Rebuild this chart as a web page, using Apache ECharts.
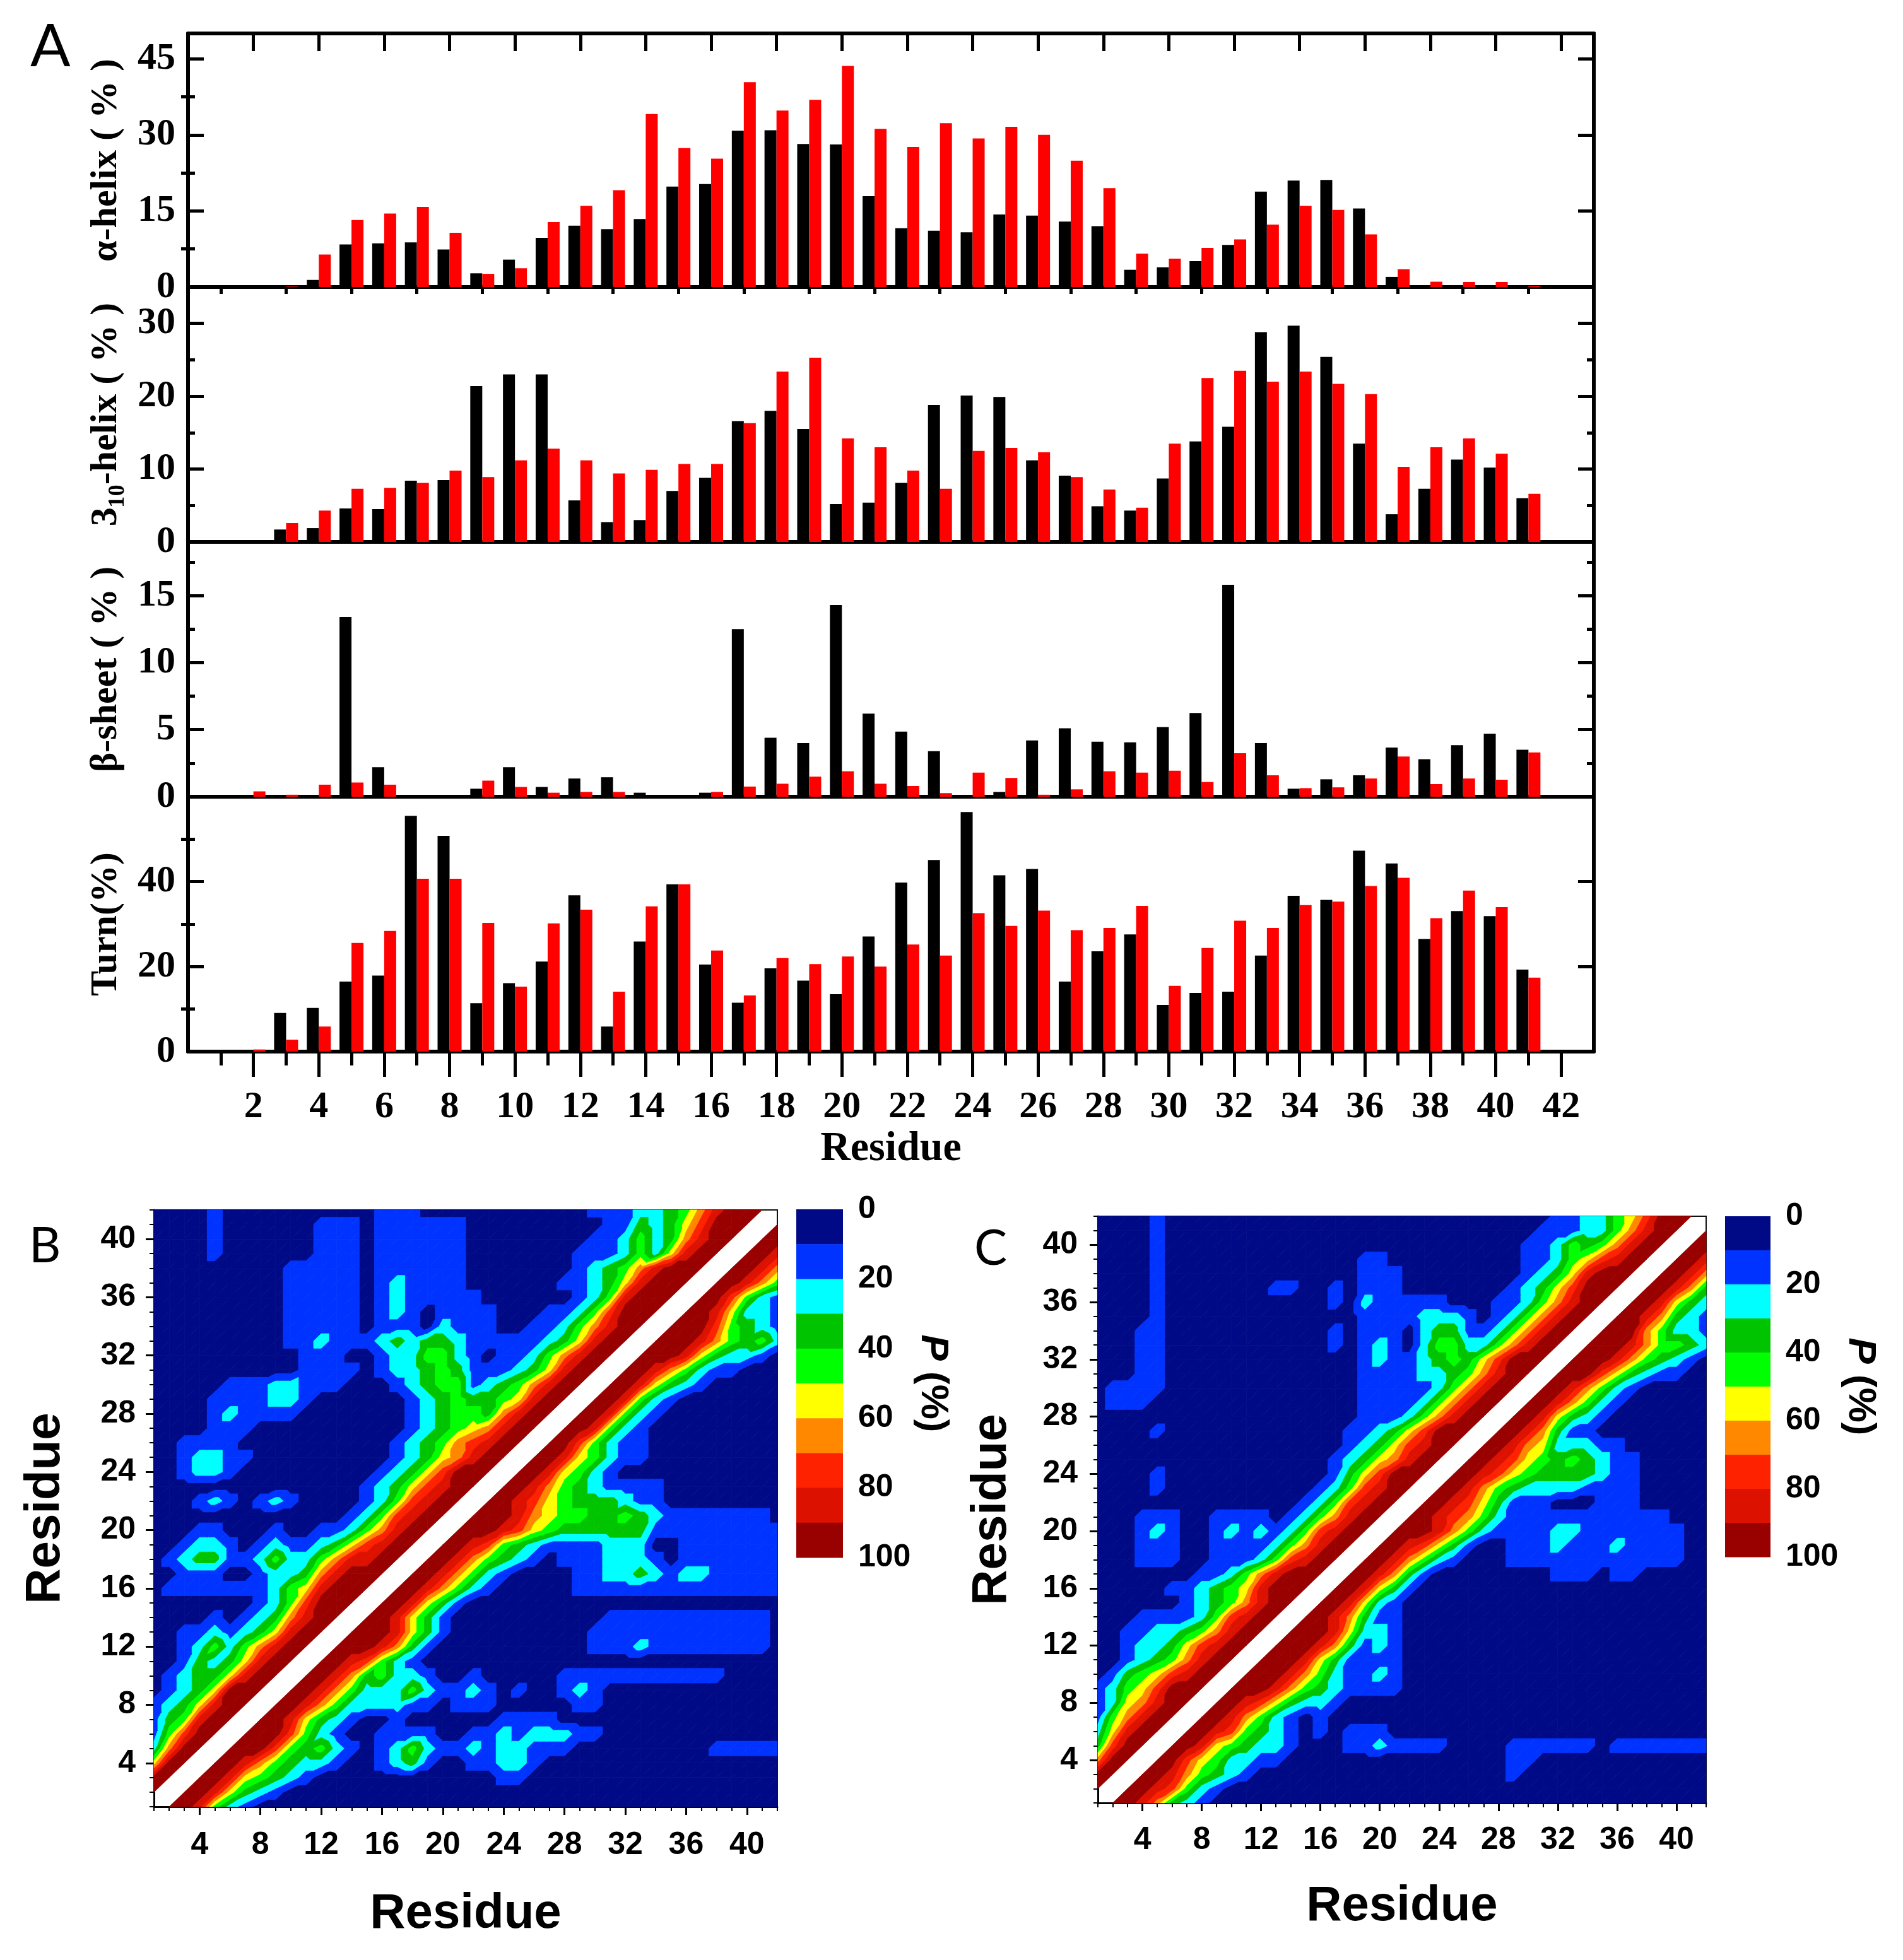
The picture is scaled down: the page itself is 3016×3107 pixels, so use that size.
<!DOCTYPE html>
<html><head><meta charset="utf-8">
<script src="https://cdn.jsdelivr.net/npm/echarts@6/dist/echarts.min.js"></script>
<style>html,body{margin:0;padding:0;background:#fff}#c{width:3016px;height:3107px}</style>
</head><body><div id="c"></div>
<script>
// ---------- Panel A data (residues 1..41) ----------
const residues = [1,2,3,4,5,6,7,8,9,10,11,12,13,14,15,16,17,18,19,20,21,22,23,24,25,26,27,28,29,30,31,32,33,34,35,36,37,38,39,40,41];
const alphaBlack = [0,0,0,1.4,8.4,8.6,8.8,7.4,2.7,5.4,9.7,12.1,11.4,13.4,19.8,20.3,30.8,30.9,28.2,28.1,17.9,11.6,11.1,10.8,14.3,14.1,12.9,12.0,3.4,3.9,5.1,8.3,18.8,21.0,21.1,15.5,2.0,0.35,0.35,0.3,0];
const alphaRed   = [0,0,0.1,6.4,13.2,14.5,15.8,10.7,2.6,3.7,12.8,16.0,19.1,34.1,27.4,25.3,40.4,34.8,36.9,43.6,31.2,27.6,32.3,29.3,31.6,30.0,24.9,19.5,6.6,5.6,7.7,9.4,12.3,16.0,15.2,10.4,3.5,1.05,1.0,1.0,0.2];
const helixBlack = [0,0,1.7,1.9,4.6,4.5,8.4,8.5,21.4,23.0,23.0,5.7,2.7,3.0,7.0,8.8,16.6,18.0,15.5,5.2,5.4,8.1,18.8,20.1,19.9,11.2,9.1,4.9,4.3,8.7,13.8,15.8,28.8,29.7,25.4,13.5,3.8,7.3,11.3,10.2,6.0];
const helixRed   = [0,0,2.6,4.3,7.3,7.4,8.1,9.8,8.9,11.2,12.8,11.2,9.4,9.9,10.7,10.7,16.3,23.4,25.3,14.2,13.0,9.8,7.3,12.5,12.9,12.3,8.9,7.2,4.7,13.5,22.5,23.5,22.0,23.4,21.7,20.3,10.3,13.0,14.2,12.1,6.6];
const sheetBlack = [0,0,0.1,0.1,13.4,2.2,0,0,0.6,2.2,0.73,1.36,1.45,0.3,0,0.3,12.5,4.4,4.0,14.3,6.2,4.85,3.4,0.1,0.36,4.2,5.1,4.1,4.06,5.2,6.24,15.8,4.0,0.6,1.3,1.6,3.67,2.8,3.85,4.7,3.5];
const sheetRed   = [0,0.4,0.15,0.9,1.06,0.9,0,0,1.2,0.73,0.3,0.36,0.36,0,0,0.36,0.76,0.97,1.5,1.9,0.97,0.8,0.27,1.8,1.4,0.15,0.55,1.9,1.8,1.94,1.1,3.24,1.6,0.64,0.7,1.36,3.0,0.94,1.36,1.27,3.3];
const turnBlack  = [0,0,9.1,10.3,16.5,17.9,55.5,50.8,11.4,16.1,21.2,36.8,5.9,25.9,39.4,20.5,11.5,19.6,16.7,13.5,27.1,39.8,45.1,56.4,41.5,43.0,16.5,23.6,27.6,11.0,13.8,14.1,22.6,36.7,35.7,47.3,44.3,26.5,33.1,31.9,19.3];
const turnRed    = [0,0.5,2.8,5.9,25.6,28.4,40.7,40.7,30.3,15.3,30.2,33.4,14.1,34.2,39.4,23.8,13.2,22.0,20.6,22.4,20.0,25.2,22.6,32.6,29.6,33.2,28.6,29.1,34.3,15.5,24.4,30.8,29.1,34.5,35.3,39.0,40.9,31.4,37.9,34.0,17.4];

const alphaTicks = [0,15,30,45], alphaMinor = [7.5,22.5,37.5];
const helixTicks = [0,10,20,30], helixMinor = [5,15,25];
const sheetTicks = [0,5,10,15],  sheetMinor = [2.5,7.5,12.5,17.5];
const turnTicks  = [0,20,40],    turnMinor  = [10,30,50];
const residueTicks = [2,4,6,8,10,12,14,16,18,20,22,24,26,28,30,32,34,36,38,40,42];
const residueMinor = [1,3,5,7,9,11,13,15,17,19,21,23,25,27,29,31,33,35,37,39,41];

// ---------- Panels B, C: contact probability, decile level at each residue pair ----------
// row k = residue 42-k (top to bottom); characters = residues 1..42 (blocks of 10); '-' = no data
const contactRowsB = [
"0000100000 0000011100 0000000001 1122346899 9-",
"0000100000 0111011111 1000000000 1132357999 -9",
"0000100000 0111011111 1000000001 124236899- 99",
"0000100000 0111011111 1000000011 12425899-9 98",
"0000000001 1111011111 1000000012 3468999-99 86",
"0000000001 1111012111 1000000112 358999-998 64",
"0000000001 1111012111 1100000012 48999-9974 21",
"0000000001 1111012101 1110001124 7999-99852 21",
"0000000001 1111011102 1110011246 899-999743 21",
"0000000001 1211123233 2111112358 99-9998643 42",
"0000000000 1110012244 2101124689 9-99985322 10",
"0000000000 1111012234 3111235899 -998642110 00",
"0000011122 1110001234 412346899- 9985321000 00",
"0000111122 1000000123 43345899-9 9842100000 00",
"0000121111 0000000123 4436899-99 8421000000 00",
"0000111000 0000000123 456899-998 4210000000 00",
"0011110000 0000001234 67899-9974 2110000000 00",
"0012211000 0000001235 6899-99854 2110000000 00",
"0012210000 0000012357 999-998542 1000000000 00",
"0000000000 0000123578 99-9986432 1111000000 00",
"0001210121 0000124789 9-99875433 3211000000 00",
"0000000000 0001247899 -999865443 3432111111 10",
"0001100010 011246899- 9998754333 3331111111 11",
"0012210121 12357899-9 9874321111 2220011111 11",
"0123311242 2468899-99 8643210111 2221011111 11",
"0011100122 368999-998 6421000011 2232122111 11",
"0111111124 58999-9986 4210000011 1111111111 11",
"0000000124 7999-99853 1000000000 0000000000 00",
"0000101236 899-998531 0000000000 1111111111 10",
"0011212358 99-9998531 0000000001 1111111111 10",
"0012424689 9-99986310 0000000001 1121111111 10",
"0013235899 -998742100 0000000000 0000000000 00",
"012335899- 9986342210 0100000111 1111111100 00",
"01235999-9 9864222421 1210100121 0000000000 00",
"1235899-99 8642222110 1110000011 0000000000 00",
"134899-998 5321001000 0001111000 0000000000 00",
"14799-9997 4210011110 0112122211 0000000000 00",
"2699-99974 3421012421 1212211100 0000000111 11",
"599-998643 2210012310 0112210000 0000000000 00",
"99-9985432 1000000000 0001100000 0000000000 00",
"9-99853210 0000000000 0000000000 0000000000 00",
"-998421000 0000000000 0000000000 0000000000 00"
];
const contactRowsC = [
"0000100000 0000000000 0000000000 0112245799 9-",
"0000100000 0000000000 0000000000 1112246899 -9",
"0000100000 0000000000 0000000001 124346899- 99",
"0000100000 0000000011 0000000001 12457899-9 98",
"0000100000 0000000011 1000000001 2358999-99 86",
"0000100000 0011001011 1000000012 357999-998 63",
"0000100000 0000001021 1111000112 46899-9985 32",
"0000100000 0000000011 1122210124 6899-99863 21",
"0001100000 0000001011 1023311246 899-999642 21",
"0001100000 0000001012 1024422468 99-9998644 32",
"0001100000 0000000012 1123435799 9-99986432 10",
"0001100000 0000000011 1122346899 -999753211 00",
"0111100000 0000000011 111246899- 9986421000 00",
"0111000000 0000000011 11246899-9 9864210000 00",
"0000000000 0000000011 1246899-99 8532100000 00",
"0000100000 0000000112 357999-998 6311000000 00",
"0000000000 0000000123 57899-9986 5222110000 00",
"0000000000 0000001235 6899-99875 4343211000 00",
"0000100000 0000001357 999-998754 3333211000 00",
"0000100000 0000012478 99-9986432 2221111000 00",
"0000000000 0000124789 9-99875311 1000111000 00",
"0001110011 1101246899 -998764211 1111111110 00",
"0001210012 121247899- 9998642111 1221111111 00",
"0001110011 11246899-9 9875310011 1211121111 00",
"0001110011 1247899-99 8642100011 1111111111 00",
"0000000112 468999-998 6310000000 0111011000 00",
"0000011234 58999-9985 3100000000 0000000000 00",
"0000001234 6899-99852 1000000000 0000000000 00",
"0001111247 899-998631 1000000000 0000000000 00",
"0011223468 99-9998522 1000000000 0000000000 00",
"0012235789 9-99986312 1000000000 0000000000 00",
"0012346899 -999853111 1000000000 0000000000 00",
"013457899- 9998642112 1000000000 0000000000 00",
"12457999-9 9986432111 1000000000 0000000000 00",
"1256899-99 8753221000 0000000000 0000000000 00",
"146899-998 6421010000 0000000000 0000000000 00",
"25899-9987 4321010111 0000000000 0000000000 00",
"3799-99854 3221000112 1111000011 1111011111 11",
"699-997542 2110000000 0000000011 0000000000 00",
"99-9986432 1000000000 0000000010 0000000000 00",
"9-99874210 0000000000 0000000000 0000000000 00",
"-998632100 0000000000 0000000000 0000000000 00"
];
const levelBounds = [0,10,20,30,40,50,60,70,80,90,100];
const levelColors = ['#000a86','#0033ff','#00ffff','#00c400','#00ff00','#ffff00','#ff8800','#ff2200','#dd1100','#990000'];
const mapTicks = [4,8,12,16,20,24,28,32,36,40];
const mapMinor = [1,2,3,4,5,6,7,8,9,10,11,12,13,14,15,16,17,18,19,20,21,22,23,24,25,26,27,28,29,30,31,32,33,34,35,36,37,38,39,40,41,42];

// ---------- build ----------
const serif = 'Liberation Serif, Times New Roman, serif';
const sans = 'Liberation Sans, Arial, sans-serif';
const grids = [], xAxes = [], yAxes = [], series = [];
const addX = o => (xAxes.push(o), xAxes.length - 1);
const addY = o => (yAxes.push(o), yAxes.length - 1);
const addG = o => (grids.push(o), grids.length - 1);
const hidden = {show: false};

// value matrix: V[i][j] (residue i on x, residue j on y); -1 = no data
function matrixFrom(rows) {
  const V = [];
  for (let i = 0; i <= 42; i++) V.push(new Array(43).fill(-1));
  rows.forEach((raw, k) => {
    let row = raw.replace(/\s/g, '');
    const j = 42 - k;
    for (let i = 1; i <= 42; i++) {
      const ch = row[i - 1];
      V[i][j] = (ch === undefined || ch === '-') ? -1 : Number(ch) * 10 + 5;
    }
  });
  return V;
}
// one item per grid square, carrying the four corner values
function squaresFrom(rows) {
  const V = matrixFrom(rows), out = [];
  for (let i = 1; i < 42; i++)
    for (let j = 1; j < 42; j++)
      out.push([i, j, V[i][j], V[i + 1][j], V[i][j + 1], V[i + 1][j + 1]]);
  return out;
}
function clipPoly(poly, f) {
  const out = [];
  for (let a = 0; a < poly.length; a++) {
    const A = poly[a], B = poly[(a + 1) % poly.length];
    const fa = f(A), fb = f(B);
    if (fa >= 0) out.push(A);
    if ((fa >= 0) !== (fb >= 0)) {
      const t = fa / (fa - fb);
      out.push([A[0] + t * (B[0] - A[0]), A[1] + t * (B[1] - A[1]), A[2] + t * (B[2] - A[2])]);
    }
  }
  return out;
}
// filled contour bands inside each square (split into two triangles, linear interpolation)
function contourRender(params, api) {
  const i = api.value(0), j = api.value(1);
  const c = [[i, j, api.value(2)], [i + 1, j, api.value(3)], [i + 1, j + 1, api.value(5)], [i, j + 1, api.value(4)]];
  const tris = [[c[0], c[1], c[2]], [c[0], c[2], c[3]]];
  const children = [];
  tris.forEach(t => {
    if (t.some(p => !(p[2] >= 0))) return;
    for (let k = 0; k < levelColors.length; k++) {
      const lo = levelBounds[k], hi = levelBounds[k + 1];
      let poly = clipPoly(t, p => p[2] - lo);
      if (poly.length < 3) continue;
      poly = clipPoly(poly, p => hi - p[2]);
      if (poly.length < 3) continue;
      const pts = poly.map(p => api.coord([p[0], p[1]]));
      children.push({type: 'polygon', shape: {points: pts},
        style: {fill: levelColors[k], stroke: levelColors[k], lineWidth: 0.8}});
    }
  });
  return {type: 'group', children: children};
}
function barRender(params, api) {
  const lo = api.value(1), k = api.value(2);
  const a = api.coord([0, lo]);
  const b = api.coord([1, lo + 10]);
  return {type: 'rect', shape: {x: a[0], y: a[1], width: b[0] - a[0], height: b[1] - a[1] + 0.5}, style: {fill: levelColors[k]}};
}

const panels = [
  {name: 'α-helix ( % )', black: alphaBlack, red: alphaRed, max: 50, major: alphaTicks, minor: alphaMinor, top: 53, h: 402},
  {name: '3₁₀-helix ( % )', black: helixBlack, red: helixRed, max: 35, major: helixTicks, minor: helixMinor, top: 455, h: 404},
  {name: 'β-sheet ( % )', black: sheetBlack, red: sheetRed, max: 19, major: sheetTicks, minor: sheetMinor, top: 859, h: 404},
  {name: 'Turn(%)', black: turnBlack, red: turnRed, max: 60, major: turnTicks, minor: turnMinor, top: 1263, h: 404}
];
const lineA = {onZero: false, lineStyle: {color: '#000', width: 6}};
panels.forEach((p, idx) => {
  const g = addG({left: 298, width: 2228, top: p.top, height: p.h});
  const last = idx === 3;
  const xm = addX({gridIndex: g, type: 'value', min: 0, max: 43, position: 'bottom', splitLine: hidden,
    axisLine: lineA,
    axisTick: last ? {show: true, customValues: residueTicks, length: 40, inside: false, lineStyle: {color: '#000', width: 5}} : hidden,
    axisLabel: last ? {show: true, customValues: residueTicks, margin: 58, fontSize: 60, fontWeight: 'bold', fontFamily: serif, color: '#000'} : hidden,
    name: last ? 'Residue' : '', nameLocation: 'middle', nameGap: 122,
    nameTextStyle: {fontSize: 66, fontWeight: 'bold', fontFamily: serif, color: '#000'}});
  if (last) addX({gridIndex: g, type: 'value', min: 0, max: 43, position: 'bottom', splitLine: hidden, axisLine: hidden, axisLabel: hidden,
    axisTick: {show: true, customValues: residueMinor, length: 22, lineStyle: {color: '#000', width: 5}}});
  if (idx === 0) {
    addX({gridIndex: g, type: 'value', min: 0, max: 43, position: 'top', splitLine: hidden, axisLine: lineA, axisLabel: hidden,
      axisTick: {show: true, inside: true, customValues: residueTicks, length: 28, lineStyle: {color: '#000', width: 5}}});
    addX({gridIndex: g, type: 'value', min: 0, max: 43, position: 'top', splitLine: hidden, axisLine: hidden, axisLabel: hidden,
      axisTick: {show: true, inside: true, customValues: residueMinor, length: 11, lineStyle: {color: '#000', width: 5}}});
  }
  const ym = addY({gridIndex: g, type: 'value', min: 0, max: p.max, position: 'left', splitLine: hidden, axisLine: lineA,
    axisTick: {show: true, inside: true, customValues: p.major, length: 25, lineStyle: {color: '#000', width: 5}},
    axisLabel: {show: true, customValues: p.major, margin: 20, fontSize: 60, fontWeight: 'bold', fontFamily: serif, color: '#000'},
    name: p.name, nameLocation: 'middle', nameGap: 100,
    nameTextStyle: {fontSize: 60, fontWeight: 'bold', fontFamily: serif, color: '#000'}});
  addY({gridIndex: g, type: 'value', min: 0, max: p.max, position: 'left', splitLine: hidden, axisLine: hidden, axisLabel: hidden,
    axisTick: {show: true, inside: true, customValues: p.minor, length: 11, lineStyle: {color: '#000', width: 5}}});
  addY({gridIndex: g, type: 'value', min: 0, max: p.max, position: 'right', splitLine: hidden, axisLine: lineA, axisLabel: hidden,
    axisTick: {show: true, inside: true, customValues: p.major, length: 25, lineStyle: {color: '#000', width: 5}}});
  addY({gridIndex: g, type: 'value', min: 0, max: p.max, position: 'right', splitLine: hidden, axisLine: hidden, axisLabel: hidden,
    axisTick: {show: true, inside: true, customValues: p.minor, length: 11, lineStyle: {color: '#000', width: 5}}});
  series.push({type: 'bar', xAxisIndex: xm, yAxisIndex: ym, barWidth: 19, barGap: '0%', itemStyle: {color: '#000000'},
    data: residues.map((r, k) => [r, p.black[k]])});
  series.push({type: 'bar', xAxisIndex: xm, yAxisIndex: ym, barWidth: 19, barGap: '0%', itemStyle: {color: '#ff0000'},
    data: residues.map((r, k) => [r, p.red[k]])});
});

function addMap(rows, box, cbBox, lab) {
  const g = addG(box);
  const tickStyle = {color: '#000', width: 3};
  const lab2 = {fontSize: 50, fontWeight: 'bold', fontFamily: sans, color: '#000'};
  const xm = addX({gridIndex: g, type: 'value', min: 1, max: 42, position: 'bottom', splitLine: hidden,
    axisLine: {onZero: false, lineStyle: {color: '#000', width: 3}},
    axisTick: {show: true, customValues: mapTicks, length: 13, lineStyle: tickStyle},
    axisLabel: Object.assign({show: true, customValues: mapTicks, margin: lab.xm}, lab2),
    name: 'Residue', nameLocation: 'middle', nameGap: lab.xg,
    nameTextStyle: {fontSize: 78, fontWeight: 'bold', fontFamily: sans, color: '#000'}});
  addX({gridIndex: g, type: 'value', min: 1, max: 42, position: 'bottom', splitLine: hidden, axisLine: hidden, axisLabel: hidden,
    axisTick: {show: true, customValues: mapMinor, length: 7, lineStyle: {color: '#000', width: 2}}});
  addX({gridIndex: g, type: 'value', min: 1, max: 42, position: 'top', splitLine: hidden, axisLabel: hidden, axisTick: hidden,
    axisLine: {onZero: false, lineStyle: {color: '#111', width: 2}}});
  const ym = addY({gridIndex: g, type: 'value', min: 1, max: 42, position: 'left', splitLine: hidden,
    axisLine: {onZero: false, lineStyle: {color: '#000', width: 3}},
    axisTick: {show: true, customValues: mapTicks, length: 13, lineStyle: tickStyle},
    axisLabel: Object.assign({show: true, customValues: mapTicks, margin: lab.ym}, lab2),
    name: 'Residue', nameLocation: 'middle', nameGap: lab.yg,
    nameTextStyle: {fontSize: 78, fontWeight: 'bold', fontFamily: sans, color: '#000'}});
  addY({gridIndex: g, type: 'value', min: 1, max: 42, position: 'left', splitLine: hidden, axisLine: hidden, axisLabel: hidden,
    axisTick: {show: true, customValues: mapMinor, length: 7, lineStyle: {color: '#000', width: 2}}});
  addY({gridIndex: g, type: 'value', min: 1, max: 42, position: 'right', splitLine: hidden, axisLabel: hidden, axisTick: hidden,
    axisLine: {onZero: false, lineStyle: {color: '#111', width: 2}}});
  series.push({type: 'custom', xAxisIndex: xm, yAxisIndex: ym, renderItem: contourRender,
    encode: {x: 0, y: 1}, data: squaresFrom(rows), z: 1});
  // colour bar
  const cg = addG(cbBox);
  const cx = addX({gridIndex: cg, type: 'value', min: 0, max: 1, show: false});
  const cy = addY({gridIndex: cg, type: 'value', min: 0, max: 100, interval: 20, inverse: true, position: 'right',
    splitLine: hidden, axisLine: hidden, axisTick: hidden,
    axisLabel: {show: true, margin: 24, fontSize: 50, fontWeight: 'bold', fontFamily: sans, color: '#000'},
    name: '{p|P} (%)', nameLocation: 'middle', nameRotate: -90, nameGap: lab.cg,
    nameTextStyle: {fontSize: 62, fontWeight: 'bold', fontFamily: sans, color: '#000',
      rich: {p: {fontSize: 62, fontWeight: 'bold', fontStyle: 'italic', fontFamily: sans, color: '#000'}}}});
  series.push({type: 'custom', xAxisIndex: cx, yAxisIndex: cy, renderItem: barRender, encode: {x: 0, y: 1},
    data: levelBounds.slice(0, 10).map((lo, k) => [0, lo, k])});
}
addMap(contactRowsB, {left: 244, top: 1918, width: 988, height: 946}, {left: 1262, top: 1917, width: 74, height: 552},
  {xm: 36, xg: 131, ym: 29, yg: 133, cg: 98});
addMap(contactRowsC, {left: 1740, top: 1928, width: 964, height: 930}, {left: 2734, top: 1928, width: 72, height: 540},
  {xm: 34, xg: 125, ym: 32, yg: 129, cg: 98});

const option = {
  animation: false,
  backgroundColor: '#ffffff',
  grid: grids, xAxis: xAxes, yAxis: yAxes, series: series,
  graphic: [
    {type: 'text', left: 48, top: 28, style: {text: 'A', fontSize: 94, fontFamily: 'Lato, Open Sans, sans-serif', fill: '#000'}},
    {type: 'text', left: 46, top: 1937, style: {text: 'B', fontSize: 78, fontFamily: 'Lato, Open Sans, sans-serif', fill: '#000'}},
    {type: 'text', left: 1544, top: 1941, style: {text: 'C', fontSize: 78, fontFamily: 'Lato, Open Sans, sans-serif', fill: '#000'}}
  ]
};
const chart = echarts.init(document.getElementById('c'), null, {renderer: 'canvas', width: 3016, height: 3107});
chart.setOption(option);
</script>
</body></html>
